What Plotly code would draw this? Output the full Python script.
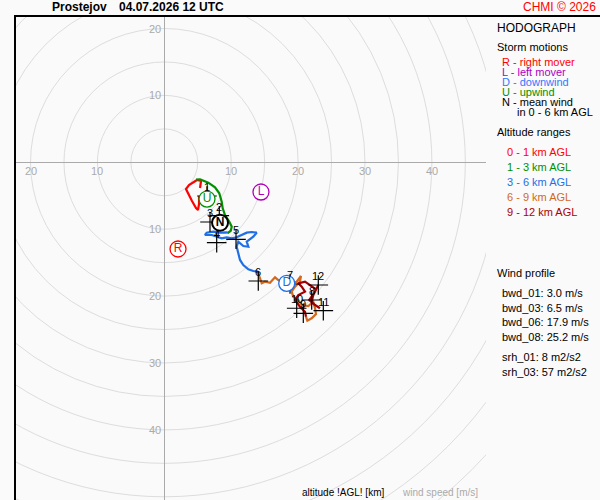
import plotly.graph_objects as go

# ── Data (u, v in m/s) ────────────────────────────────────────────────
SEG_0_1_U = [5.19, 5.19, 5.04, 4.74, 4.14, 3.54, 3.24, 3.69, 4.29, 4.89, 5.49, 5.34, 5.34]
SEG_0_1_V = [-5.04, -6.23, -7.13, -6.83, -5.79, -4.74, -3.99, -3.39, -2.95, -2.65, -2.80, -3.54, -3.84]

SEG_1_3_U = [4.74, 5.34, 6.58, 7.58, 8.22, 8.58, 8.73, 9.07, 9.72, 10.08, 9.93, 9.42]
SEG_1_3_V = [-2.57, -2.54, -3.05, -3.74, -4.63, -5.89, -6.88, -7.88, -8.88, -9.63, -10.23, -10.61]

SEG_3_6_U = [9.42, 9.33, 8.33, 7.33, 6.34, 6.08, 7.09, 7.83, 8.58, 9.33, 10.08, 10.82, 11.57,
             12.32, 13.07, 13.81, 13.30, 12.32, 12.56, 11.81, 11.06, 10.82, 11.06, 11.32,
             11.81, 12.56, 13.30, 14.05]
SEG_3_6_V = [-10.61, -10.46, -10.52, -10.37, -10.52, -10.87, -10.87, -11.12, -11.36, -11.21,
             -11.36, -11.21, -10.87, -10.52, -10.42, -10.52, -11.12, -11.87, -12.62, -12.51,
             -11.87, -12.62, -13.60, -14.60, -15.35, -16.00, -16.25, -16.35]

SEG_6_9_U = [14.05, 14.05, 14.31, 14.56, 15.05, 15.80, 16.55, 17.04, 17.79, 19.04, 19.79, 20.43,
             20.28, 19.54, 19.04, 19.28, 20.03, 20.54, 21.53, 22.27, 22.53, 22.68, 22.03, 21.38,
             21.18]
SEG_6_9_V = [-16.35, -16.59, -17.34, -18.09, -17.85, -18.00, -17.19, -17.59, -18.00, -18.09,
             -17.85, -17.00, -17.85, -18.60, -19.34, -20.09, -20.58, -21.33, -21.48, -20.84,
             -21.82, -22.68, -23.32, -23.68, -23.08]

SEG_9_12_U = [21.18, 21.03, 20.28, 19.54, 20.03, 21.03, 20.54, 20.03, 21.03, 22.03, 22.68, 22.27,
              22.03, 22.53, 23.27, 22.87, 22.18, 21.68, 22.53, 23.02]
SEG_9_12_V = [-23.08, -22.33, -21.58, -20.58, -19.84, -19.34, -18.60, -18.09, -17.85, -18.49,
              -18.99, -19.84, -20.84, -21.33, -21.82, -21.48, -21.08, -20.58, -19.34, -18.34]

ALT_LABELS = ["1", "2", "3", "4", "5", "6", "7", "8", "9", "10", "11", "12"]
ALT_U = [6.38, 8.22, 6.83, 7.83, 10.72, 14.05, 18.79, 22.03, 20.78, 19.79, 23.77, 23.02]
ALT_V = [-5.04, -7.98, -8.92, -12.02, -11.51, -17.74, -18.19, -20.58, -22.57, -21.82, -22.18, -18.34]

STORM_LABELS = ["R", "L", "U", "N", "D"]
STORM_U = [2.05, 14.45, 6.38, 8.33, 18.30]
STORM_V = [-12.96, -4.44, -5.49, -9.03, -18.09]

RINGS = [5, 10, 15, 20, 25, 30, 35, 40, 45, 50, 55, 60, 65, 70]
X_TICKS = [-20, -10, 10, 20, 30, 40]
Y_TICKS = [20, 10, -10, -20, -30, -40]

STORM_LEGEND = ["R - right mover", "L - left mover", "D - downwind", "U - upwind", "N - mean wind"]
ALT_RANGES = ["0 - 1 km AGL", "1 - 3 km AGL", "3 - 6 km AGL", "6 - 9 km AGL", "9 - 12 km AGL"]
WIND_PROFILE = ["bwd_01: 3.0 m/s", "bwd_03: 6.5 m/s", "bwd_06: 17.9 m/s", "bwd_08: 25.2 m/s"]
SRH = ["srh_01: 8 m2/s2", "srh_03: 57 m2/s2"]

# ── Style ─────────────────────────────────────────────────────────────
FONT = "Liberation Sans, Arial, sans-serif"
BG = "#fafafa"
RING_COLOR = "#dddddd"
AXIS_COLOR = "#aaaaaa"

SEG_COLORS = ["#ff0000", "#009000", "#1f6fe6", "#d2691e", "#a00000"]
STORM_COLORS = {"R": "#ff0000", "L": "#b000b8", "U": "#009000", "N": "#000000", "D": "#1f6fe6"}
STORM_LEG_COLORS = ["#ff0000", "#b000c0", "#3377ff", "#009000", "#000000"]
ALT_LEG_COLORS = ["#ff0000", "#009000", "#1f6fe6", "#d2691e", "#aa0000"]

# plot area in pixels
L, T, W, H = 14, 16, 472, 484
X_RANGE = [-22.47, 48.09]
Y_RANGE = [-50.48, 21.87]


def px(x):
    return (x - L) / W


def py(y):
    return 1 - (y - T) / H


fig = go.Figure()

segments = [
    (SEG_0_1_U, SEG_0_1_V), (SEG_1_3_U, SEG_1_3_V), (SEG_3_6_U, SEG_3_6_V),
    (SEG_6_9_U, SEG_6_9_V), (SEG_9_12_U, SEG_9_12_V),
]
for (u, v), color in zip(segments, SEG_COLORS):
    fig.add_trace(go.Scatter(
        x=u, y=v, mode="lines",
        line=dict(color=color, width=2.2),
        hoverinfo="skip", showlegend=False,
    ))

# altitude crosses
fig.add_trace(go.Scatter(
    x=ALT_U, y=ALT_V, mode="markers",
    marker=dict(symbol="cross-thin", size=14, line=dict(color="black", width=1.2)),
    hoverinfo="skip", showlegend=False,
))

# storm motion circles
for lab, u, v in zip(STORM_LABELS, STORM_U, STORM_V):
    c = STORM_COLORS[lab]
    fig.add_trace(go.Scatter(
        x=[u], y=[v], mode="markers+text",
        text=[f"<b>{lab}</b>" if lab == "N" else lab],
        textposition="middle center",
        textfont=dict(family=FONT, size=12, color=c),
        marker=dict(size=16, color="white", line=dict(color=c, width=2 if lab == "N" else 1.3)),
        hoverinfo="skip", showlegend=False,
    ))

# rings
shapes = []
for r in RINGS:
    shapes.append(dict(
        type="circle", xref="x", yref="y", x0=-r, x1=r, y0=-r, y1=r,
        line=dict(color=RING_COLOR, width=1), layer="below",
    ))

# frame
shapes.append(dict(type="line", xref="paper", yref="paper",
                   x0=px(14), x1=px(600), y0=py(16), y1=py(16),
                   line=dict(color="black", width=2)))
shapes.append(dict(type="line", xref="paper", yref="paper",
                   x0=px(15), x1=px(15), y0=py(16), y1=py(500),
                   line=dict(color="black", width=2)))

annotations = []

# tick labels
for t in X_TICKS:
    annotations.append(dict(x=t, y=0, xref="x", yref="y", text=str(abs(t)), showarrow=False,
                            yshift=-9, xanchor="center", yanchor="middle",
                            font=dict(family=FONT, size=11, color=AXIS_COLOR)))
for t in Y_TICKS:
    annotations.append(dict(x=0, y=t, xref="x", yref="y", text=str(abs(t)), showarrow=False,
                            xshift=-1, xanchor="right", yanchor="middle",
                            font=dict(family=FONT, size=11, color=AXIS_COLOR)))

# altitude labels
for lab, u, v in zip(ALT_LABELS, ALT_U, ALT_V):
    annotations.append(dict(x=u, y=v, xref="x", yref="y", text=lab, showarrow=False,
                            yshift=9, xanchor="center", yanchor="middle",
                            font=dict(family=FONT, size=11, color="black")))


def note(text, x, y, color="black", size=11, anchor="left"):
    annotations.append(dict(x=px(x), y=py(y), xref="paper", yref="paper", text=text,
                            showarrow=False, xanchor=anchor, yanchor="middle",
                            font=dict(family=FONT, size=size, color=color)))


# header
note("<b>Prostejov</b>", 50, 7, size=12)
note("<b>04.07.2026 12 UTC</b>", 117, 7, size=12)
note("CHMI © 2026", 598, 7, color="#ff0000", size=12, anchor="right")

# right panel
note("HODOGRAPH", 495, 28, size=12)
note("Storm motions", 495, 47)
for i, (txt, c) in enumerate(zip(STORM_LEGEND, STORM_LEG_COLORS)):
    note(txt, 500, 62 + 10 * i, color=c)
note("in 0 - 6 km AGL", 515, 112)
note("Altitude ranges", 495, 132)
for i, (txt, c) in enumerate(zip(ALT_RANGES, ALT_LEG_COLORS)):
    note(txt, 505, 152 + 15 * i, color=c)
note("Wind profile", 495, 273)
for i, txt in enumerate(WIND_PROFILE):
    note(txt, 500, 293 + 14.7 * i)
for i, txt in enumerate(SRH):
    note(txt, 500, 357 + 15 * i)

# bottom
note("altitude !AGL! [km]", 300, 492, size=10)
note("wind speed [m/s]", 400, 492, color=AXIS_COLOR, size=10)

fig.update_xaxes(range=X_RANGE, showgrid=False, showticklabels=False, ticks="",
                 zeroline=True, zerolinecolor=AXIS_COLOR, zerolinewidth=1, showline=False)
fig.update_yaxes(range=Y_RANGE, showgrid=False, showticklabels=False, ticks="",
                 zeroline=True, zerolinecolor=AXIS_COLOR, zerolinewidth=1, showline=False)

fig.update_layout(
    width=600, height=500,
    margin=dict(l=L, r=600 - L - W, t=T, b=500 - T - H, pad=0),
    paper_bgcolor=BG, plot_bgcolor=BG,
    shapes=shapes, annotations=annotations,
    showlegend=False,
    font=dict(family=FONT),
)

# drop the default page margin so the figure sits at the window origin
fig.write_html("out.html", config={"displayModeBar": False},
               post_script="document.body.style.margin='0';")
